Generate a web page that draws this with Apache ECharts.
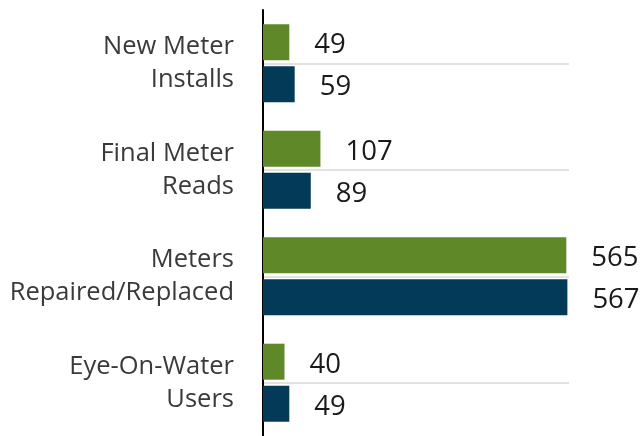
<!DOCTYPE html>
<html>
<head>
<meta charset="utf-8">
<script src="https://cdn.jsdelivr.net/npm/echarts@6/dist/echarts.min.js"></script>
<style>
    html, body { margin: 0; padding: 0; background: #fff; }
    #chart { width: 643px; height: 436px; }
</style>
</head>
<body>
<div id="chart"></div>
<script>
    const categories = ['New Meter\nInstalls', 'Final Meter\nReads', 'Meters\nRepaired/Replaced', 'Eye-On-Water\nUsers'];
    const greenValues = [49, 107, 565, 40];
    const blueValues = [59, 89, 567, 49];

    const valueLabel = {
        show: true,
        position: 'right',
        distance: 25,
        offset: [0, 3],
        color: '#1a1a1a',
        fontFamily: 'Open Sans',
        fontSize: 27.5
    };

    const chart = echarts.init(document.getElementById('chart'));
    chart.setOption({
        animation: false,
        grid: { left: 263, top: 10, width: 306, height: 432, containLabel: false },
        xAxis: {
            type: 'value',
            min: 0,
            max: 570,
            show: false
        },
        yAxis: {
            type: 'category',
            inverse: true,
            data: categories,
            axisLine: { lineStyle: { color: '#000', width: 2 } },
            axisTick: { alignWithLabel: true, length: 18, lineStyle: { color: '#000', width: 2 } },
            splitLine: { show: true, alignWithLabel: true, lineStyle: { color: '#e2e2e2', width: 2 } },
            axisLabel: {
                margin: 29,
                color: '#3a3a3a',
                fontFamily: 'Open Sans',
                fontSize: 25.5,
                lineHeight: 33,
                padding: [6, 0, 0, 0],
                align: 'right'
            }
        },
        series: [{
            name: 'green',
            type: 'bar',
            data: greenValues,
            barWidth: 36,
            barGap: '17%',
            itemStyle: { color: '#5f8829' },
            label: valueLabel
        }, {
            name: 'blue',
            type: 'bar',
            data: blueValues,
            barWidth: 36,
            itemStyle: { color: '#033a58' },
            label: valueLabel
        }]
    });
</script>
</body>
</html>
